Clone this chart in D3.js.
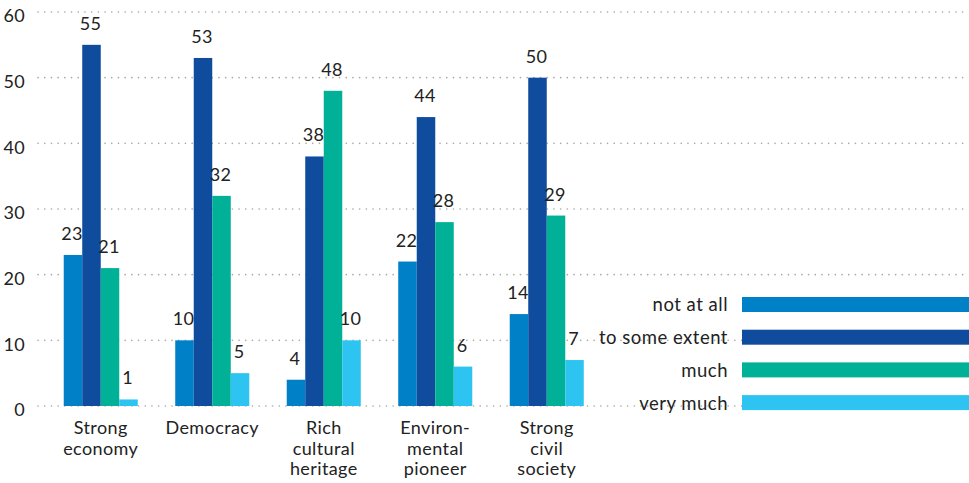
<!DOCTYPE html>
<html>
<head>
<meta charset="utf-8">
<script src="https://cdn.jsdelivr.net/npm/d3@7"></script>
<style>
  html, body { margin: 0; padding: 0; background: #fff; }
  svg { display: block; font-family: "Lato", "Open Sans", sans-serif; }
</style>
</head>
<body>
<svg id="chart" width="969" height="483"></svg>
<script>
// Categories (multi-line labels) and the four answer series
const categories = ["Strong economy", "Democracy", "Rich cultural heritage", "Environmental pioneer", "Strong civil society"];
const categoryLines = [["Strong", "economy"], ["Democracy"], ["Rich", "cultural", "heritage"], ["Environ-", "mental", "pioneer"], ["Strong", "civil", "society"]];
const seriesNames = ["not at all", "to some extent", "much", "very much"];
const notAtAll = [23, 10, 4, 22, 14];
const toSomeExtent = [55, 53, 38, 44, 50];
const much = [21, 32, 48, 28, 29];
const veryMuch = [1, 5, 10, 6, 7];
const yTicks = [0, 10, 20, 30, 40, 50, 60];

const seriesValues = [notAtAll, toSomeExtent, much, veryMuch];
const colors = ["#0080c6", "#0f4c9e", "#00b097", "#2ec4f1"];

const svg = d3.select("#chart");
const W = 969;

const y = d3.scaleLinear().domain([0, 60]).range([406, 12]);
const x0 = d3.scaleBand().domain(categories).range([45, 602.5]).paddingInner(0.336).paddingOuter(0.168);
const x1 = d3.scaleBand().domain(seriesNames).range([0, x0.bandwidth()]);
const color = d3.scaleOrdinal().domain(seriesNames).range(colors);

// dotted gridlines
const grid = svg.append("g");
grid.selectAll("line").data(yTicks).join("line")
  .attr("x1", 38).attr("x2", W)
  .attr("y1", d => y(d)).attr("y2", d => y(d))
  .attr("stroke", "#a8a8a8")
  .attr("stroke-width", 1.6)
  .attr("stroke-linecap", "round")
  .attr("stroke-dasharray", "0.1,6.6");

// y axis labels
const yAxis = d3.axisLeft(y).tickValues(yTicks).tickSize(0).tickPadding(0);
const ya = svg.append("g").attr("transform", "translate(25,0)").call(yAxis);
ya.select(".domain").remove();
ya.selectAll("text")
  .attr("font-family", "Lato, 'Open Sans', sans-serif")
  .attr("font-size", 18).attr("fill", "#222")
  .attr("letter-spacing", 0.3)
  .attr("dy", "0.55em").attr("text-anchor", "end");

// grouped bars
const rows = categories.map((c, i) => ({ cat: c, vals: seriesNames.map((s, j) => ({ s, v: seriesValues[j][i] })) }));
const groups = svg.append("g").selectAll("g").data(rows).join("g")
  .attr("transform", d => `translate(${x0(d.cat)},0)`);

groups.selectAll("rect").data(d => d.vals).join("rect")
  .attr("x", d => x1(d.s))
  .attr("y", d => y(d.v))
  .attr("width", x1.bandwidth())
  .attr("height", d => y(0) - y(d.v))
  .attr("fill", d => color(d.s));

groups.selectAll("text.val").data(d => d.vals).join("text")
  .attr("class", "val")
  .attr("x", d => x1(d.s) + x1.bandwidth() / 2 - 1)
  .attr("y", d => y(d.v) - 15)
  .attr("text-anchor", "middle")
  .attr("font-size", 18).attr("fill", "#222")
  .attr("letter-spacing", 0.3)
  .text(d => d.v);

// category labels
const cl = svg.append("g").selectAll("text").data(categories).join("text")
  .attr("x", d => x0(d) + x0.bandwidth() / 2)
  .attr("y", 434)
  .attr("text-anchor", "middle")
  .attr("font-size", 18).attr("fill", "#222")
  .attr("letter-spacing", 0.4);
cl.each(function (d, i) {
  d3.select(this).selectAll("tspan").data(categoryLines[i]).join("tspan")
    .attr("x", x0(d) + x0.bandwidth() / 2)
    .attr("dy", (t, k) => k === 0 ? 0 : 20.5)
    .text(t => t);
});

// legend
const ly = d3.scaleBand().domain(seriesNames).range([297, 297 + 4 * 32.7]);
const leg = svg.append("g").selectAll("g").data(seriesNames).join("g")
  .attr("transform", d => `translate(0,${ly(d)})`);
leg.append("rect")
  .attr("x", 742).attr("y", 0).attr("width", W - 742).attr("height", 15)
  .attr("fill", d => color(d));
leg.append("text")
  .attr("x", 728).attr("y", 8).attr("dy", "0.35em")
  .attr("text-anchor", "end")
  .attr("font-size", 18.5).attr("fill", "#222")
  .attr("letter-spacing", 0.5)
  .text(d => d);
</script>
</body>
</html>
